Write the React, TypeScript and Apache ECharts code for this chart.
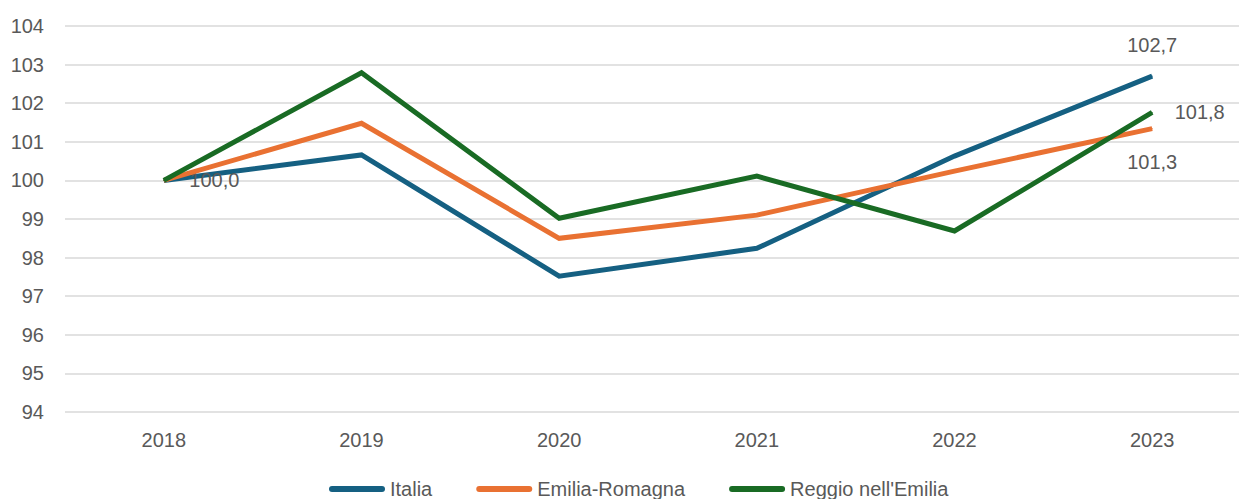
import React, { useEffect, useRef } from "react";
import * as echarts from "echarts";

const categories = ["2018", "2019", "2020", "2021", "2022", "2023"];
const italia = [100.0, 100.66, 97.52, 98.24, 100.63, 102.7];
const emiliaRomagna = [100.0, 101.48, 98.5, 99.1, 100.24, 101.34];
const reggioEmilia = [100.0, 102.79, 99.02, 100.11, 98.69, 101.76];
const seriesNames = ["Italia", "Emilia-Romagna", "Reggio nell'Emilia"];
const colors = ["#156082", "#E97132", "#196B24"];
const yMin = 94;
const yMax = 104;

const FONT = "'Liberation Sans', Arial, sans-serif";
const TEXT = "#595959";

const fmt = (v: number) => v.toFixed(1).replace(".", ",");

type LabelSpec = { index: number; position: string; distance: number } | null;

function buildData(values: number[], labels: LabelSpec[]) {
  return values.map((v, i) => {
    const spec = labels.find((l) => l && l.index === i);
    if (!spec) return { value: v };
    return {
      value: v,
      label: {
        show: true,
        position: spec.position,
        distance: spec.distance,
        formatter: () => fmt(v),
        color: TEXT,
        fontSize: 20,
        fontFamily: FONT,
      },
    };
  });
}

export default function App() {
  const ref = useRef<HTMLDivElement>(null);
  useEffect(() => {
    if (!ref.current) return;
    const chart = echarts.init(ref.current, null, { renderer: "svg" });
    const allData = [
      buildData(italia, [
        { index: 0, position: "right", distance: 25 },
        { index: 5, position: "top", distance: 21 },
      ]),
      buildData(emiliaRomagna, [{ index: 5, position: "bottom", distance: 23 }]),
      buildData(reggioEmilia, [{ index: 5, position: "right", distance: 22 }]),
    ];
    chart.setOption({
      animation: false,
      grid: { left: 65, right: 0, top: 26, bottom: 87, containLabel: false },
      legend: {
        left: 324,
        top: 474,
        itemWidth: 56,
        itemHeight: 6,
        itemGap: 44,
        icon: "path://M3,0H53A3,3,0,0,1,53,6H3A3,3,0,0,1,3,0Z",
        textStyle: { color: TEXT, fontSize: 20, fontFamily: FONT },
        data: seriesNames,
      },
      xAxis: {
        type: "category",
        data: categories,
        boundaryGap: true,
        axisLine: { show: false },
        axisTick: { show: false },
        axisLabel: { color: TEXT, fontSize: 20, fontFamily: FONT, margin: 18 },
      },
      yAxis: {
        type: "value",
        min: yMin,
        max: yMax,
        interval: 1,
        axisLine: { show: false },
        axisTick: { show: false },
        axisLabel: { color: TEXT, fontSize: 20, fontFamily: FONT, margin: 21 },
        splitLine: { lineStyle: { color: "#d9d9d9", width: 1.5 } },
      },
      series: seriesNames.map((name, i) => ({
        name,
        type: "line",
        data: allData[i],
        symbol: "circle",
        symbolSize: 1,
        showSymbol: true,
        color: colors[i],
        itemStyle: { color: colors[i] },
        lineStyle: { color: colors[i], width: 5, join: "miter" },
        emphasis: { disabled: true },
        z: 2 + i,
      })),
    });
    return () => chart.dispose();
  }, []);
  return (
    <div style={{ position: "absolute", left: 0, top: 0, width: 1239, height: 499, overflow: "hidden" }}>
      <div ref={ref} style={{ width: 1251, height: 499 }} />
    </div>
  );
}
